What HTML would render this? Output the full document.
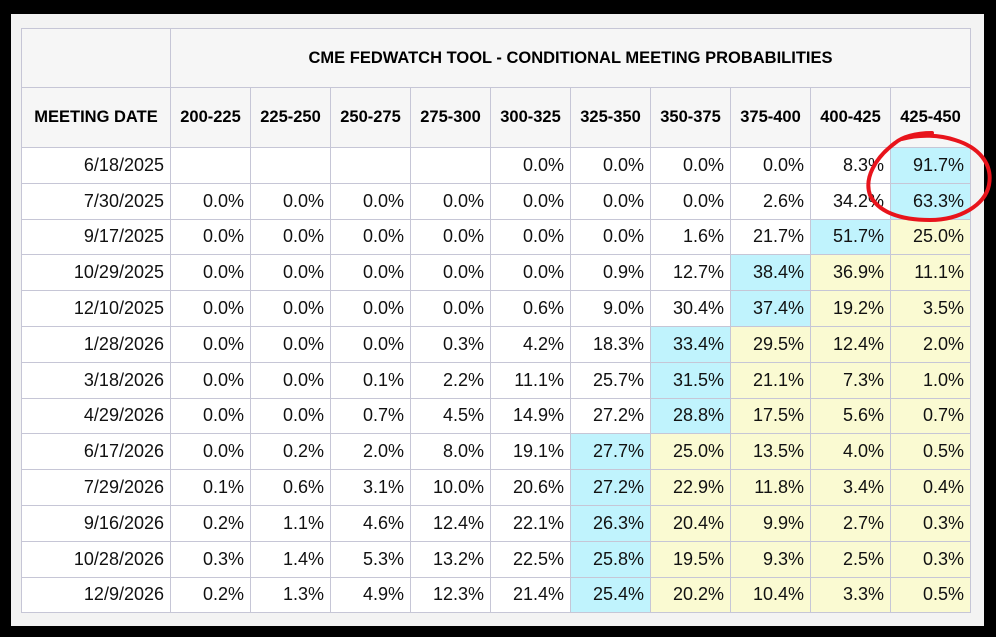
<!DOCTYPE html>
<html><head><meta charset="utf-8"><style>
body{margin:0;background:#000;width:996px;height:637px;position:relative;overflow:hidden;font-family:"Liberation Sans",Arial,sans-serif}
#panel{position:absolute;left:11px;top:14px;width:973px;height:612px;background:#f3f3f3}
table{position:absolute;left:21px;top:28px;border-collapse:collapse;table-layout:fixed;background:#fff}
td,th{border:1px solid #c6c6d6;padding:0 6px 0 0;text-align:right;font-size:18px;color:#111;box-sizing:border-box}
tbody tr{height:35.8px}
th{background:#f6f6f6;font-size:16.5px;font-weight:bold;text-align:center;padding:0;color:#000}
.c{background:#c0f3fd}.y{background:#fafad2}
svg{position:absolute;left:0;top:0}
</style></head><body>
<div id="panel"></div>
<table>
<colgroup><col style="width:149px"><col span="10" style="width:80px"></colgroup>
<thead>
<tr style="height:59px"><th></th><th colspan="10">CME FEDWATCH TOOL - CONDITIONAL MEETING PROBABILITIES</th></tr>
<tr id="hdr" style="height:60px"><th>MEETING DATE</th></tr>
</thead><tbody id="tb"></tbody></table>
<svg width="996" height="637"><path d="M932,133 C915,133 902,137 895,143 C875,158 864,178 870,195 C878,212 900,220 930,220 C960,220 985,205 989,185 C993,163 978,147 955,140 C940,135 920,134 902,139" fill="none" stroke="#e8141c" stroke-width="4" stroke-linecap="round"/></svg>
<script>
const ranges=["200-225","225-250","250-275","275-300","300-325","325-350","350-375","375-400","400-425","425-450"];
const dates=["6/18/2025","7/30/2025","9/17/2025","10/29/2025","12/10/2025","1/28/2026","3/18/2026","4/29/2026","6/17/2026","7/29/2026","9/16/2026","10/28/2026","12/9/2026"];
const probs=[
[null,null,null,null,0,0,0,0,8.3,91.7],
[0,0,0,0,0,0,0,2.6,34.2,63.3],
[0,0,0,0,0,0,1.6,21.7,51.7,25.0],
[0,0,0,0,0,0.9,12.7,38.4,36.9,11.1],
[0,0,0,0,0.6,9.0,30.4,37.4,19.2,3.5],
[0,0,0,0.3,4.2,18.3,33.4,29.5,12.4,2.0],
[0,0,0.1,2.2,11.1,25.7,31.5,21.1,7.3,1.0],
[0,0,0.7,4.5,14.9,27.2,28.8,17.5,5.6,0.7],
[0,0.2,2.0,8.0,19.1,27.7,25.0,13.5,4.0,0.5],
[0.1,0.6,3.1,10.0,20.6,27.2,22.9,11.8,3.4,0.4],
[0.2,1.1,4.6,12.4,22.1,26.3,20.4,9.9,2.7,0.3],
[0.3,1.4,5.3,13.2,22.5,25.8,19.5,9.3,2.5,0.3],
[0.2,1.3,4.9,12.3,21.4,25.4,20.2,10.4,3.3,0.5]];
const hdr=document.getElementById('hdr');
ranges.forEach(r=>{const th=document.createElement('th');


th.textContent=r;hdr.appendChild(th);});
const tb=document.getElementById('tb');
dates.forEach((d,i)=>{const tr=document.createElement('tr');


const td=document.createElement('td');


td.textContent=d;tr.appendChild(td);
const row=probs[i];let mx=-1,mi=0;row.forEach((v,j)=>{if(v!==null&&v>mx){mx=v;mi=j;}});
row.forEach((v,j)=>{const c=document.createElement('td');


if(v!==null)c.textContent=v.toFixed(1)+'%';
if(j===mi)c.className='c';else if(j>mi)c.className='y';
tr.appendChild(c);});
tb.appendChild(tr);});
</script>
</body></html>
